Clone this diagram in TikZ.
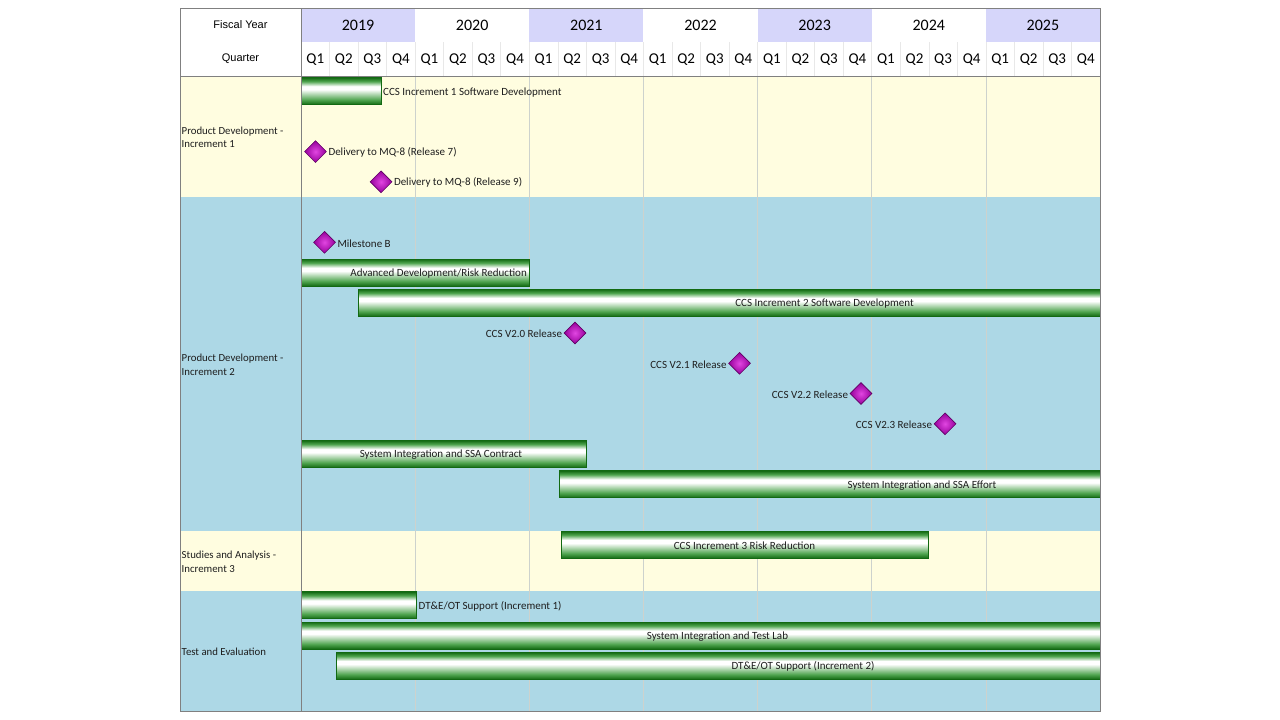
\documentclass[tikz,border=0pt]{standalone}
\usepackage{fontspec}
\setmainfont{Carlito}
\newfontfamily\hdrfont{Liberation Sans}
\usepackage{tikz}
\usetikzlibrary{positioning,shapes.geometric}
\definecolor{GanttYearFill}{RGB}{214,214,250}
\definecolor{GanttCream}{RGB}{255,253,224}
\definecolor{GanttBlue}{RGB}{173,216,230}
\definecolor{GanttFrame}{RGB}{128,128,128}
\definecolor{GanttGrid}{RGB}{205,210,205}
\definecolor{GanttQSep}{RGB}{232,232,232}
\definecolor{GanttBarDark}{RGB}{18,105,18}
\definecolor{GanttBarMid}{RGB}{80,165,80}
\definecolor{GanttMsIn}{RGB}{225,70,225}
\definecolor{GanttMsOut}{RGB}{150,0,155}
\definecolor{GanttMsEdge}{RGB}{95,0,100}
\definecolor{GanttText}{RGB}{30,30,30}
\pgfdeclareverticalshading{ganttbar}{100bp}{color(0bp)=(GanttBarDark); color(25bp)=(GanttBarDark); color(34bp)=(GanttBarMid); color(53bp)=(white); color(59bp)=(white); color(68bp)=(GanttBarMid); color(75bp)=(GanttBarDark); color(100bp)=(GanttBarDark)}

\begin{document}
\begin{tikzpicture}[x=1pt,y=-1pt,
  txt/.style={font=\fontsize{11}{13}\selectfont,text=GanttText,inner sep=0pt,yshift=-1pt},
  rowlbl/.style={font=\fontsize{10.8}{13.3}\selectfont,text=GanttText,align=left,anchor=west,inner sep=0pt,yshift=-1pt},
  hdr/.style={font=\hdrfont\fontsize{11}{13}\selectfont},
  yr/.style={font=\fontsize{16}{18}\selectfont,yshift=-0.5pt},
  qtr/.style={font=\fontsize{15}{17}\selectfont,yshift=-0.5pt},
  qsep/.style={GanttQSep,line width=0.6pt},
  ygrid/.style={GanttGrid,line width=0.6pt},
  bar/.style={shade,shading=ganttbar,draw=GanttBarDark,line width=0.8pt,anchor=west,minimum height=27pt,minimum width=#1,inner sep=0pt,outer sep=0pt},
  ms/.style={diamond,inner color=GanttMsIn,outer color=GanttMsOut,draw=GanttMsEdge,line width=0.6pt,minimum size=22pt,inner sep=0pt}]
\useasboundingbox (0,0) rectangle (1280,720);
\fill[white] (0,0) rectangle (1280,720);
\fill[GanttCream] (180,76) rectangle (1100,197);
\fill[GanttBlue] (180,197) rectangle (1100,530.5);
\fill[GanttCream] (180,530.5) rectangle (1100,591);
\fill[GanttBlue] (180,591) rectangle (1100,711);
\foreach \i in {0,2,4,6}
   \fill[GanttYearFill] ({301+114.14*\i},8) rectangle ++(114.14,34);
\foreach \i in {1,...,27}
   \draw[qsep] ({301+28.536*\i},42) -- ++(0,34);
\foreach \i in {1,...,6}
   \draw[ygrid] ({301+114.14*\i},76) -- ++(0,635);
\node[hdr] (fy) at (240.5,25) {Fiscal Year};
\node[hdr] (qt) at (240.5,59) {Quarter};
\foreach \i/\yr in {0/2019,1/2020,2/2021,3/2022,4/2023,5/2024,6/2025}
   \node[yr] (y\yr) at ({358.07+114.14*\i},25) {\yr};
\foreach \i in {0,...,27} {
   \pgfmathtruncatemacro\qn{mod(\i,4)+1}
   \node[qtr] (q\i) at ({315.27+28.536*\i},59) {Q\qn};
}
\node[rowlbl] (pd1) at (181.5,136.5) {Product Development -\\Increment 1};
\node[rowlbl] (pd2) at (181.5,363.7) {Product Development -\\Increment 2};
\node[rowlbl] (sa3) at (181.5,560.7) {Studies and Analysis -\\Increment 3};
\node[rowlbl] (te) at (181.5,651) {Test and Evaluation};
\node[bar=80pt] (inc1sw) at (301,91.1) {};
\node[txt,right=2pt of inc1sw] (inc1swl) {CCS Increment 1 Software Development};
\node[ms] (rel7) at (315.5,151.6) {};
\node[txt,right=1.5pt of rel7] (rel7l) {Delivery to MQ-8 (Release 7)};
\node[ms] (rel9) at (381,181.8) {};
\node[txt,right=1.5pt of rel9] (rel9l) {Delivery to MQ-8 (Release 9)};
\node[ms] (msb) at (324.5,242.3) {};
\node[txt,right=1.5pt of msb] (msbl) {Milestone B};
\node[bar=228.3pt] (advdev) at (301,272.6) {};
\node[txt,anchor=east] (advdevl) at (527,272.6) {Advanced Development/Risk Reduction};
\node[bar=742pt] (inc2sw) at (358,302.8) {};
\node[txt] (inc2swl) at (824.5,302.8) {CCS Increment 2 Software Development};
\node[ms] (v20) at (575,333) {};
\node[txt,left=1.5pt of v20] (v20l) {CCS V2.0 Release};
\node[ms] (v21) at (739.5,363.3) {};
\node[txt,left=1.5pt of v21] (v21l) {CCS V2.1 Release};
\node[ms] (v22) at (861,393.5) {};
\node[txt,left=1.5pt of v22] (v22l) {CCS V2.2 Release};
\node[ms] (v23) at (945,423.8) {};
\node[txt,left=1.5pt of v23] (v23l) {CCS V2.3 Release};
\node[bar=285.4pt] (ssac) at (301,454) {};
\node[txt] (ssacl) at (441,454) {System Integration and SSA Contract};
\node[bar=541pt] (ssae) at (559,484.3) {};
\node[txt] (ssael) at (922,484.3) {System Integration and SSA Effort};
\node[bar=367.5pt] (inc3) at (561,544.8) {};
\node[txt] (inc3l) at (744.5,544.8) {CCS Increment 3 Risk Reduction};
\node[bar=115.5pt] (dte1) at (301,605.3) {};
\node[txt,right=2pt of dte1] (dte1l) {DT\&E/OT Support (Increment 1)};
\node[bar=799pt] (lab) at (301,635.5) {};
\node[txt] (labl) at (717.5,635.5) {System Integration and Test Lab};
\node[bar=764pt] (dte2) at (336,665.8) {};
\node[txt] (dte2l) at (803,665.8) {DT\&E/OT Support (Increment 2)};
\draw[GanttFrame,line width=0.8pt] (180,76) -- (1100,76) (301,8) -- (301,711);
\draw[GanttFrame,line width=0.8pt] (180,8) rectangle (1100,711);
\end{tikzpicture}
\end{document}
